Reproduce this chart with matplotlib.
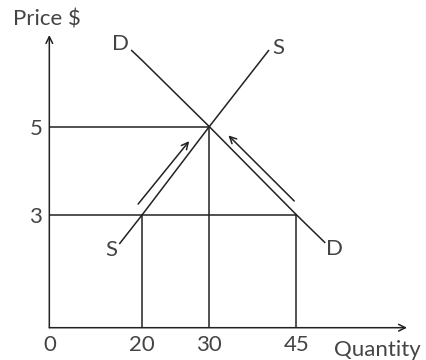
import numpy as np
import matplotlib
matplotlib.use("Agg")
import matplotlib.pyplot as plt

# values (schematic supply / demand diagram)
qty_ticks = [0, 20, 30, 45]
price_ticks = [3, 5]
eq_qty, eq_price = 30, 5
low_price = 3
qs_low, qd_low = 20, 45

supply_q = [15.05, 20, 30, 40.3]
supply_p = [2.22, 3, 5, 6.74]
demand_q = [17.6, 20, 30, 45, 50]
demand_p = [6.74, 6.50, 5, 3, 2.25]

# movement arrows along the curves
supply_arrow = [(19.1, 3.24), (27.0, 4.67)]
demand_arrow = [(44.65, 3.31), (33.3, 4.80)]

# the drawn axis is schematic, not linear: scale knots (value -> pixel)
x_knots = [-100, 0, 20, 30, 45, 300]
x_px = [-465, 0, 93, 160, 247, 247 + 255 * 5.8]
y_knots = [-100, 0, 3, 5, 100]
y_px = [-3767, 0, 113, 201, 201 + 95 * 44]

plt.rcParams['font.family'] = ['Lato', 'DejaVu Sans']
ink = '#222222'
txt = '#444444'
lw = 1.1

fig = plt.figure(figsize=(4.27, 3.6), dpi=100)
ax = fig.add_axes([0.1155, 0.0897, 0.8377, 0.813])

ax.set_xscale('function', functions=(lambda v: np.interp(v, x_knots, x_px),
                                     lambda v: np.interp(v, x_px, x_knots)))
ax.set_yscale('function', functions=(lambda v: np.interp(v, y_knots, y_px),
                                     lambda v: np.interp(v, y_px, y_knots)))
ax.set_xlim(0, 64.1)
ax.set_ylim(0, 7.08)

for s in ax.spines.values():
    s.set_visible(False)

# axes with arrow heads
ap = dict(arrowstyle='->', lw=lw, color=ink, shrinkA=0, shrinkB=0, mutation_scale=12)
ax.annotate('', xy=(1, 0), xytext=(0, 0), xycoords='axes fraction', arrowprops=ap)
ax.annotate('', xy=(0, 1), xytext=(0, 0), xycoords='axes fraction', arrowprops=ap)

# guide lines
ax.plot([0, eq_qty], [eq_price, eq_price], color=ink, lw=lw)
ax.plot([0, qd_low], [low_price, low_price], color=ink, lw=lw)
ax.plot([eq_qty, eq_qty], [0, eq_price], color=ink, lw=lw)
ax.plot([qs_low, qs_low], [0, low_price], color=ink, lw=lw)
ax.plot([qd_low, qd_low], [0, low_price], color=ink, lw=lw)

# curves
ax.plot(supply_q, supply_p, color=ink, lw=lw, solid_capstyle='butt')
ax.plot(demand_q, demand_p, color=ink, lw=lw, solid_capstyle='butt')

for (x0, y0), (x1, y1) in [supply_arrow, demand_arrow]:
    ax.annotate('', xy=(x1, y1), xytext=(x0, y0), arrowprops=ap)

fs = 16
lab = dict(fontsize=fs, color=txt, ha='center', va='center_baseline',
           textcoords='offset points')
ax.annotate('D', xy=(demand_q[0], demand_p[0]), xytext=(-8, 6), **lab)
ax.annotate('S', xy=(supply_q[-1], supply_p[-1]), xytext=(6.5, 3), **lab)
ax.annotate('S', xy=(supply_q[0], supply_p[0]), xytext=(-6, -2.5), **lab)
ax.annotate('D', xy=(demand_q[-1], demand_p[-1]), xytext=(6.5, -3), **lab)

ax.set_xticks(qty_ticks)
ax.set_xticklabels([str(v) for v in qty_ticks])
ax.set_yticks(price_ticks)
ax.set_yticklabels([str(v) for v in price_ticks])
ax.tick_params(length=0, pad=5, labelsize=fs, labelcolor=txt)

fig.text(13 / 427, 1 - 26 / 360, 'Price $', fontsize=fs, color=txt,
         ha='left', va='baseline')
fig.text(334 / 427, 1 - 356 / 360, 'Quantity', fontsize=fs, color=txt,
         ha='left', va='baseline')

fig.savefig('out.png', dpi=100)
